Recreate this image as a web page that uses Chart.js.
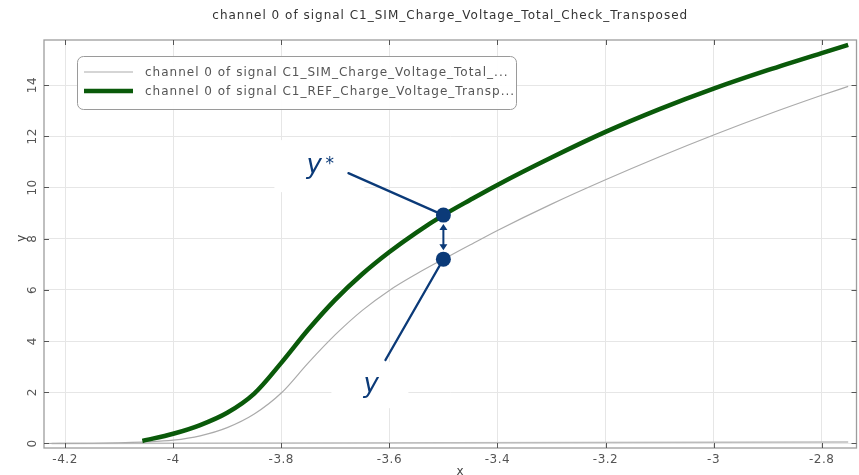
<!DOCTYPE html>
<html>
<head>
<meta charset="utf-8">
<script src="https://cdn.jsdelivr.net/npm/chart.js@4/dist/chart.umd.min.js"></script>
<style>
  html, body { margin: 0; padding: 0; background: #fff; overflow: hidden; }
  canvas { display: block; }
</style>
</head>
<body>
<canvas id="c" width="859" height="475"></canvas>
<script>
// Simulated signal (thin grey curve)
const simX = [-4.24, -4.15, -4.1, -4.05, -4.0, -3.95, -3.9, -3.85, -3.8, -3.75, -3.7, -3.65, -3.6, -3.55, -3.5, -3.45, -3.4, -3.3, -3.2, -3.1, -3.0, -2.9, -2.8, -2.751];
const simY = [0.0, 0.01, 0.03, 0.06, 0.13, 0.3, 0.62, 1.15, 1.97, 3.15, 4.25, 5.2, 5.98, 6.62, 7.2, 7.76, 8.32, 9.35, 10.3, 11.2, 12.05, 12.85, 13.6, 13.95];

// Reference signal (thick green curve)
const refX = [-4.057, -4.0, -3.95, -3.9, -3.85, -3.8, -3.75, -3.7, -3.65, -3.6, -3.55, -3.5, -3.45, -3.4, -3.3, -3.2, -3.1, -3.0, -2.9, -2.8, -2.751];
const refY = [0.1, 0.38, 0.72, 1.2, 1.95, 3.15, 4.45, 5.62, 6.62, 7.48, 8.24, 8.92, 9.52, 10.1, 11.17, 12.17, 13.06, 13.86, 14.58, 15.25, 15.57];

// Flat zero-level trace
const baseX = [-4.225, -2.751];
const baseY = [0.0, 0.06];

// Sample where y and y* are compared
const markX = -3.5;

const seriesLabels = [
  'channel 0 of signal C1_SIM_Charge_Voltage_Total_...',
  'channel 0 of signal C1_REF_Charge_Voltage_Transp...'
];
const titleText = 'channel 0 of signal C1_SIM_Charge_Voltage_Total_Check_Transposed';
const xTitle = 'x';
const yTitle = 'y';
const xStep = 0.2;
const yStep = 2;

const FONT = '"DejaVu Sans", Verdana, sans-serif';
const NAVY = '#0b3a78';
const GREY_LINE = '#ababab';
const GREEN = '#0a5a0a';

const pts = (xs, ys) => xs.map((x, i) => ({ x: x, y: ys[i] }));
const yAt = (xs, ys, x) => ys[xs.indexOf(x)];
const fmt = v => String(+(+v).toFixed(2));

const decor = {
  id: 'decor',
  beforeDatasetsDraw(chart) {
    // white backing behind the callout labels
    const { ctx, scales: { x: xs, y: ys } } = chart;
    const mx = xs.getPixelForValue(markX);
    const yTop = ys.getPixelForValue(yAt(refX, refY, markX));
    const yBot = ys.getPixelForValue(yAt(simX, simY, markX));
    ctx.save();
    ctx.fillStyle = '#ffffff';
    ctx.fillRect(mx - 169, yTop - 75, 90, 52);
    ctx.fillRect(mx - 112, yBot + 103, 77, 46);
    ctx.restore();
  },
  afterDatasetsDraw(chart) {
    const { ctx, scales: { x: xs, y: ys } } = chart;
    const mx = xs.getPixelForValue(markX);
    const yTop = ys.getPixelForValue(yAt(refX, refY, markX));
    const yBot = ys.getPixelForValue(yAt(simX, simY, markX));

    ctx.save();
    // leader lines
    ctx.strokeStyle = NAVY;
    ctx.lineWidth = 2.2;
    ctx.lineCap = 'round';
    ctx.beginPath();
    ctx.moveTo(mx, yTop);
    ctx.lineTo(mx - 95, yTop - 42);
    ctx.moveTo(mx, yBot);
    ctx.lineTo(mx - 58, yBot + 101);
    ctx.stroke();

    // double-headed arrow between the two values
    const y1 = yTop + 9, y2 = yBot - 9, ah = 6, aw = 4;
    ctx.lineWidth = 2;
    ctx.beginPath();
    ctx.moveTo(mx, y1 + ah - 1);
    ctx.lineTo(mx, y2 - ah + 1);
    ctx.stroke();
    ctx.fillStyle = NAVY;
    ctx.beginPath();
    ctx.moveTo(mx, y1); ctx.lineTo(mx - aw, y1 + ah); ctx.lineTo(mx + aw, y1 + ah); ctx.closePath();
    ctx.moveTo(mx, y2); ctx.lineTo(mx - aw, y2 - ah); ctx.lineTo(mx + aw, y2 - ah); ctx.closePath();
    ctx.fill();

    // markers
    [yTop, yBot].forEach(py => {
      ctx.beginPath();
      ctx.arc(mx, py, 7.5, 0, Math.PI * 2);
      ctx.fill();
    });

    // labels
    ctx.textAlign = 'left';
    ctx.textBaseline = 'alphabetic';
    ctx.font = 'italic 26px ' + FONT;
    ctx.fillText('y', mx - 137, yTop - 42);
    ctx.font = '17px ' + FONT;
    ctx.fillText('*', mx - 118, yTop - 46);
    ctx.font = 'italic 26px ' + FONT;
    ctx.fillText('y', mx - 80, yBot + 133);
    ctx.restore();
  },
  afterDraw(chart) {
    const { ctx, chartArea: a, scales: { x: xs, y: ys } } = chart;
    ctx.save();

    // frame
    ctx.strokeStyle = '#9d9d9d';
    ctx.lineWidth = 1.3;
    ctx.strokeRect(a.left, a.top, a.right - a.left, a.bottom - a.top);

    // inward tick marks on all sides
    ctx.strokeStyle = '#555';
    ctx.lineWidth = 1;
    ctx.beginPath();
    xs.ticks.forEach(t => {
      const px = Math.round(xs.getPixelForValue(t.value)) + 0.5;
      ctx.moveTo(px, a.bottom); ctx.lineTo(px, a.bottom - 5);
      ctx.moveTo(px, a.top); ctx.lineTo(px, a.top + 5);
    });
    ys.ticks.forEach(t => {
      const py = Math.round(ys.getPixelForValue(t.value)) + 0.5;
      ctx.moveTo(a.left, py); ctx.lineTo(a.left + 5, py);
      ctx.moveTo(a.right, py); ctx.lineTo(a.right - 5, py);
    });
    ctx.stroke();

    // tick labels
    ctx.fillStyle = '#555';
    ctx.font = '12px ' + FONT;
    ctx.letterSpacing = '0.5px';
    ctx.textAlign = 'center';
    ctx.textBaseline = 'middle';
    xs.ticks.forEach(t => {
      ctx.fillText(fmt(t.value), xs.getPixelForValue(t.value), a.bottom + 12);
    });
    ys.ticks.forEach(t => {
      ctx.save();
      ctx.translate(a.left - 11, ys.getPixelForValue(t.value));
      ctx.rotate(-Math.PI / 2);
      ctx.fillText(fmt(t.value), 0, 0);
      ctx.restore();
    });

    // axis titles
    ctx.fillStyle = '#444';
    ctx.fillText(xTitle, (a.left + a.right) / 2 + 10, a.bottom + 24);
    ctx.save();
    ctx.translate(a.left - 22, (a.top + a.bottom) / 2 - 6);
    ctx.rotate(-Math.PI / 2);
    ctx.fillText(yTitle, 0, 0);
    ctx.restore();

    // chart title
    ctx.letterSpacing = '1px';
    ctx.fillStyle = '#333';
    ctx.fillText(titleText, (a.left + a.right) / 2, 16);

    // legend
    const lx = a.left + 33, ly = a.top + 16, lw = 439, lh = 53;
    ctx.fillStyle = 'rgba(255,255,255,0.95)';
    ctx.strokeStyle = '#9a9a9a';
    ctx.lineWidth = 1;
    ctx.beginPath();
    ctx.roundRect(lx + 0.5, ly + 0.5, lw, lh, 6);
    ctx.fill();
    ctx.stroke();
    const ds = chart.data.datasets;
    [0, 1].forEach((i, k) => {
      const rowY = ly + 16 + k * 19;
      ctx.strokeStyle = ds[i].borderColor;
      ctx.lineWidth = ds[i].borderWidth;
      ctx.beginPath();
      ctx.moveTo(lx + 7, rowY);
      ctx.lineTo(lx + 56, rowY);
      ctx.stroke();
      ctx.fillStyle = '#555';
      ctx.textAlign = 'left';
      ctx.fillText(ds[i].label, lx + 68, rowY + 1);
    });
    ctx.restore();
  }
};

new Chart(document.getElementById('c').getContext('2d'), {
  type: 'scatter',
  data: {
    datasets: [
      { label: seriesLabels[0], data: pts(simX, simY), showLine: true, borderColor: GREY_LINE, borderWidth: 1.2,
        pointRadius: 0, cubicInterpolationMode: 'monotone', order: 2 },
      { label: seriesLabels[1], data: pts(refX, refY), showLine: true, borderColor: GREEN, borderWidth: 4.5,
        pointRadius: 0, cubicInterpolationMode: 'monotone', order: 1 },
      { label: '', data: pts(baseX, baseY), showLine: true, borderColor: '#bcbcbc', borderWidth: 1.5,
        pointRadius: 0, order: 3 }
    ]
  },
  options: {
    responsive: false,
    animation: false,
    devicePixelRatio: 1,
    layout: { padding: { left: 44, right: 2.5, top: 40, bottom: 27 } },
    plugins: { legend: { display: false }, title: { display: false }, tooltip: { enabled: false } },
    scales: {
      x: {
        type: 'linear', min: -4.239, max: -2.7356,
        ticks: { display: false, stepSize: xStep, includeBounds: false },
        grid: { color: '#e6e6e6', drawTicks: false },
        border: { display: false },
        afterFit(s) { s.height = 0; }
      },
      y: {
        type: 'linear', min: -0.176, max: 15.76,
        ticks: { display: false, stepSize: yStep, includeBounds: false },
        grid: { color: '#e6e6e6', drawTicks: false },
        border: { display: false },
        afterFit(s) { s.width = 0; }
      }
    }
  },
  plugins: [decor]
});
</script>
</body>
</html>
